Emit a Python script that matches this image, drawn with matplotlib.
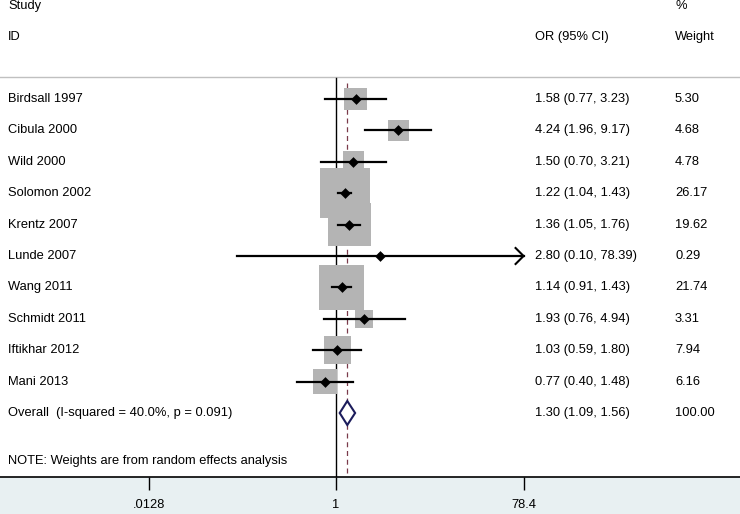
import numpy as np
import matplotlib.pyplot as plt
from matplotlib.lines import Line2D

plt.rcParams['font.family'] = ['Liberation Sans', 'DejaVu Sans']

studies = ['Birdsall 1997', 'Cibula 2000', 'Wild 2000', 'Solomon 2002', 'Krentz 2007',
           'Lunde 2007', 'Wang 2011', 'Schmidt 2011', 'Iftikhar 2012', 'Mani 2013']
ors = [1.58, 4.24, 1.50, 1.22, 1.36, 2.80, 1.14, 1.93, 1.03, 0.77]
lower = [0.77, 1.96, 0.70, 1.04, 1.05, 0.10, 0.91, 0.76, 0.59, 0.40]
upper = [3.23, 9.17, 3.21, 1.43, 1.76, 78.39, 1.43, 4.94, 1.80, 1.48]
weights = [5.30, 4.68, 4.78, 26.17, 19.62, 0.29, 21.74, 3.31, 7.94, 6.16]
overall = (1.30, 1.09, 1.56)
overall_label = 'Overall  (I-squared = 40.0%, p = 0.091)'
ticks = [0.0128, 1, 78.4]
tick_labels = ['.0128', '1', '78.4']

W, H = 740, 514
AX_Y = 477  # pixel row of the x axis
fig = plt.figure(figsize=(W / 100, H / 100), dpi=100, facecolor='#e8f0f2')
ax = fig.add_axes([0, (H - AX_Y) / H, 1, AX_Y / H], facecolor='white')

# pixel mapping: x px = 336 + k*ln(v)
k = 375 / np.log(78.4 / 0.0128)
ax.set_xscale('log')
ax.set_xlim(np.exp(-336 / k), np.exp((W - 336) / k))
ax.set_ylim(AX_Y, 0)
for s in ['top', 'left', 'right']:
    ax.spines[s].set_visible(False)
ax.spines['bottom'].set_linewidth(1.2)
ax.set_yticks([])
ax.set_xticks(ticks)
fs = 9.3
ax.set_xticklabels(tick_labels, fontsize=fs)
ax.xaxis.set_minor_locator(plt.NullLocator())
ax.tick_params(axis='x', length=9, width=1, pad=7)

trans = ax.get_yaxis_transform()
rows = 99 + 31.4 * np.arange(len(studies))
y_over = 99 + 31.4 * len(studies)

# header
ax.text(8 / W, 6, 'Study', transform=trans, fontsize=fs, va='center')
ax.text(8 / W, 37, 'ID', transform=trans, fontsize=fs, va='center')
ax.text(535 / W, 37, 'OR (95% CI)', transform=trans, fontsize=fs, va='center')
ax.text(675 / W, 6, '%', transform=trans, fontsize=fs, va='center')
ax.text(675 / W, 37, 'Weight', transform=trans, fontsize=fs, va='center')
ax.add_line(Line2D([0, 1], [77, 77], transform=trans, color='#c0c0c0', lw=1))

# reference lines
ax.plot([1, 1], [78, AX_Y], color='black', lw=1, zorder=2)
ax.plot([overall[0]] * 2, [83, AX_Y], color='#7a3a4a', lw=0.9, ls=(0, (4, 3)), zorder=2)

# boxes
side = 50 / np.sqrt(26.17) * np.sqrt(weights) * 0.72
ax.scatter(ors, rows, s=side ** 2, marker='s', color='#b4b4b4', lw=0, zorder=3)

xmax_tick = ticks[-1]
for i in range(len(studies)):
    y = rows[i]
    if upper[i] >= xmax_tick * 0.999:
        # CI runs off the scale: draw an open arrowhead at the last tick
        ax.plot([lower[i], xmax_tick], [y, y], color='black', lw=1.6, zorder=4)
        back = xmax_tick * np.exp(-8 / k)
        ax.plot([back, xmax_tick, back], [y - 8, y, y + 8], color='black', lw=1.5,
                solid_joinstyle='miter', zorder=4)
    else:
        ax.plot([lower[i], upper[i]], [y, y], color='black', lw=1.6, zorder=4)
    ax.text(8 / W, y, studies[i], transform=trans, fontsize=fs, va='center')
    ax.text(535 / W, y, '%.2f (%.2f, %.2f)' % (ors[i], lower[i], upper[i]),
            transform=trans, fontsize=fs, va='center')
    ax.text(675 / W, y, '%.2f' % weights[i], transform=trans, fontsize=fs, va='center')

ax.scatter(ors, rows, s=30, marker='D', color='black', lw=0, zorder=5)

# overall diamond
est, lo, hi = overall
ax.fill([lo, est, hi, est, lo], [y_over, y_over - 12, y_over, y_over + 12, y_over],
        facecolor='white', edgecolor='#1c1c5c', lw=1.5, zorder=5)
ax.text(8 / W, y_over, overall_label, transform=trans, fontsize=fs, va='center')
ax.text(535 / W, y_over, '%.2f (%.2f, %.2f)' % overall, transform=trans, fontsize=fs, va='center')
ax.text(675 / W, y_over, '100.00', transform=trans, fontsize=fs, va='center')

ax.text(8 / W, 461, 'NOTE: Weights are from random effects analysis', transform=trans,
        fontsize=fs, va='center')

fig.savefig('out.png', dpi=100, facecolor=fig.get_facecolor())
